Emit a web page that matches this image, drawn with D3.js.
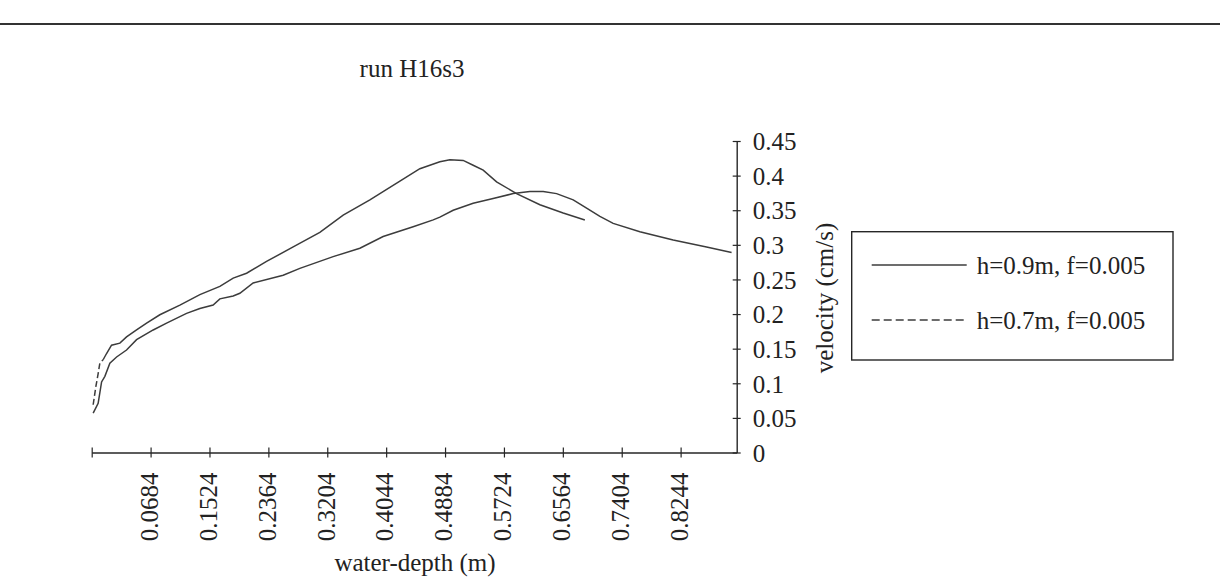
<!DOCTYPE html>
<html>
<head>
<meta charset="utf-8">
<script src="https://cdn.jsdelivr.net/npm/d3@7"></script>
<style>
  html, body { margin: 0; padding: 0; background: #fff; }
  svg { display: block; }
  text { font-family: "Liberation Serif", "Times New Roman", serif; fill: #222; }
</style>
</head>
<body>
<svg id="chart" width="1220" height="583"></svg>
<script>
// ---- data ----
const titleText = "run H16s3";
const xTitle = "water-depth (m)";
const yTitle = "velocity (cm/s)";
const xTickLabels = ["0.0684","0.1524","0.2364","0.3204","0.4044","0.4884","0.5724","0.6564","0.7404","0.8244"];
const yTickValues = [0, 0.05, 0.1, 0.15, 0.2, 0.25, 0.3, 0.35, 0.4, 0.45];
const seriesNames = ["h=0.9m, f=0.005", "h=0.7m, f=0.005"];

// h=0.9m (solid)
const depthH09 = [-0.0135,-0.0064,-0.0015,0.0032,0.0103,0.0199,0.0341,0.0484,0.0721,0.0912,0.1197,0.1387,0.1576,0.1672,0.1862,0.1957,0.2147,0.2575,0.2813,0.3288,0.3669,0.4001,0.4429,0.4715,0.4810,0.5000,0.5285,0.5570,0.5856,0.6094,0.6284,0.6475,0.6712,0.6903,0.7093,0.7282,0.7663,0.8138,0.8614,0.8971];
const velH09   = [0.057,0.071,0.102,0.110,0.129,0.138,0.148,0.163,0.177,0.187,0.201,0.208,0.213,0.222,0.226,0.230,0.245,0.256,0.266,0.283,0.295,0.312,0.326,0.336,0.340,0.350,0.360,0.367,0.374,0.377,0.377,0.374,0.365,0.353,0.341,0.331,0.319,0.307,0.297,0.289];

// h=0.7m (dashed)
const depthH07 = [-0.0135,-0.0097,-0.0064,-0.0040,0.0007,0.0056,0.0127,0.0246,0.0341,0.0484,0.0627,0.0816,0.1102,0.1387,0.1672,0.1862,0.2053,0.2338,0.2718,0.3098,0.3431,0.3812,0.4240,0.4525,0.4810,0.4953,0.5143,0.5285,0.5428,0.5619,0.5904,0.6237,0.6569,0.6878];
const velH07   = [0.069,0.095,0.114,0.129,0.134,0.143,0.155,0.158,0.167,0.177,0.187,0.199,0.213,0.228,0.240,0.252,0.259,0.276,0.297,0.318,0.343,0.365,0.392,0.410,0.420,0.423,0.422,0.415,0.408,0.391,0.374,0.358,0.346,0.336];

// ---- drawing ----
const svg = d3.select("#chart");
const FS = 25;
const ink = "#262626";

// top rule
svg.append("line").attr("x1", 0).attr("x2", 1220).attr("y1", 24).attr("y2", 24)
  .attr("stroke", "#333").attr("stroke-width", 2.2);

const x = d3.scaleLinear().domain([-0.0156, 0.9044]).range([91.7, 736.7]);
const y = d3.scaleLinear().domain([0, 0.45]).range([452.5, 141]);

// title
svg.append("text").attr("x", 412).attr("y", 77).attr("text-anchor", "middle")
  .attr("font-size", FS).text(titleText);

// x axis
const xTickNums = xTickLabels.map(Number);
const xTickVals = [x.domain()[0]].concat(xTickNums);
const xAxis = d3.axisBottom(x).tickValues(xTickVals).tickSize(0)
  .tickFormat(d => { const i = xTickNums.indexOf(d); return i >= 0 ? xTickLabels[i] : ""; });
const gx = svg.append("g").attr("transform", `translate(0,${y(0)})`).call(xAxis);
gx.select(".domain").attr("stroke", ink).attr("stroke-width", 1.4);
gx.selectAll(".tick line").attr("y1", -5).attr("y2", 5).attr("stroke", ink).attr("stroke-width", 1.2);
gx.selectAll(".tick text")
  .attr("font-size", FS).attr("font-family", "Liberation Serif, Times New Roman, serif")
  .attr("fill", ink)
  .attr("text-anchor", "end")
  .attr("transform", "rotate(-90)")
  .attr("x", -20).attr("y", -2).attr("dy", "0.35em");

// y axis
const yAxis = d3.axisRight(y).tickValues(yTickValues).tickSize(0).tickFormat(d => String(+d.toFixed(2)));
const gy = svg.append("g").attr("transform", `translate(${x.range()[1]},0)`).call(yAxis);
gy.select(".domain").attr("stroke", ink).attr("stroke-width", 1.4);
gy.selectAll(".tick line").attr("x1", -4).attr("x2", 4).attr("stroke", ink).attr("stroke-width", 1.2);
gy.selectAll(".tick text")
  .attr("font-size", FS).attr("font-family", "Liberation Serif, Times New Roman, serif")
  .attr("fill", ink).attr("x", 16).attr("dy", "0.35em");

// axis titles
svg.append("text").attr("x", 415).attr("y", 571).attr("text-anchor", "middle")
  .attr("font-size", FS).text(xTitle);
svg.append("text").attr("transform", "translate(833,298) rotate(-90)")
  .attr("text-anchor", "middle").attr("font-size", FS).text(yTitle);

// series
const line = d3.line().x(d => x(d[0])).y(d => y(d[1]));
const s09 = depthH09.map((d, i) => [d, velH09[i]]);
const s07 = depthH07.map((d, i) => [d, velH07[i]]);
const lineColor = "#3c3c3c";

svg.append("path").datum(s09).attr("d", line)
  .attr("fill", "none").attr("stroke", lineColor).attr("stroke-width", 1.5);

// dashed series: long steep segments show dashes, short ones look continuous (as in the original)
const steep = s07.slice(0, 5), rest = s07.slice(4);
svg.append("path").datum(steep).attr("d", line)
  .attr("fill", "none").attr("stroke", lineColor).attr("stroke-width", 1.5)
  .attr("stroke-dasharray", "6,3");
svg.append("path").datum(rest).attr("d", line)
  .attr("fill", "none").attr("stroke", lineColor).attr("stroke-width", 1.5);

// legend
const lg = svg.append("g");
lg.append("rect").attr("x", 851.7).attr("y", 231.7).attr("width", 321.3).attr("height", 128.3)
  .attr("fill", "none").attr("stroke", ink).attr("stroke-width", 1.4);
const legendRows = [{ name: seriesNames[0], dash: null, y: 265 }, { name: seriesNames[1], dash: "8,4", y: 320 }];
legendRows.forEach(r => {
  const l = lg.append("line").attr("x1", 871.7).attr("x2", 966.7).attr("y1", r.y).attr("y2", r.y)
    .attr("stroke", lineColor).attr("stroke-width", 1.3);
  if (r.dash) l.attr("stroke-dasharray", r.dash);
  lg.append("text").attr("x", 976.7).attr("y", r.y).attr("dy", "0.35em")
    .attr("font-size", FS).text(r.name);
});
</script>
</body>
</html>
